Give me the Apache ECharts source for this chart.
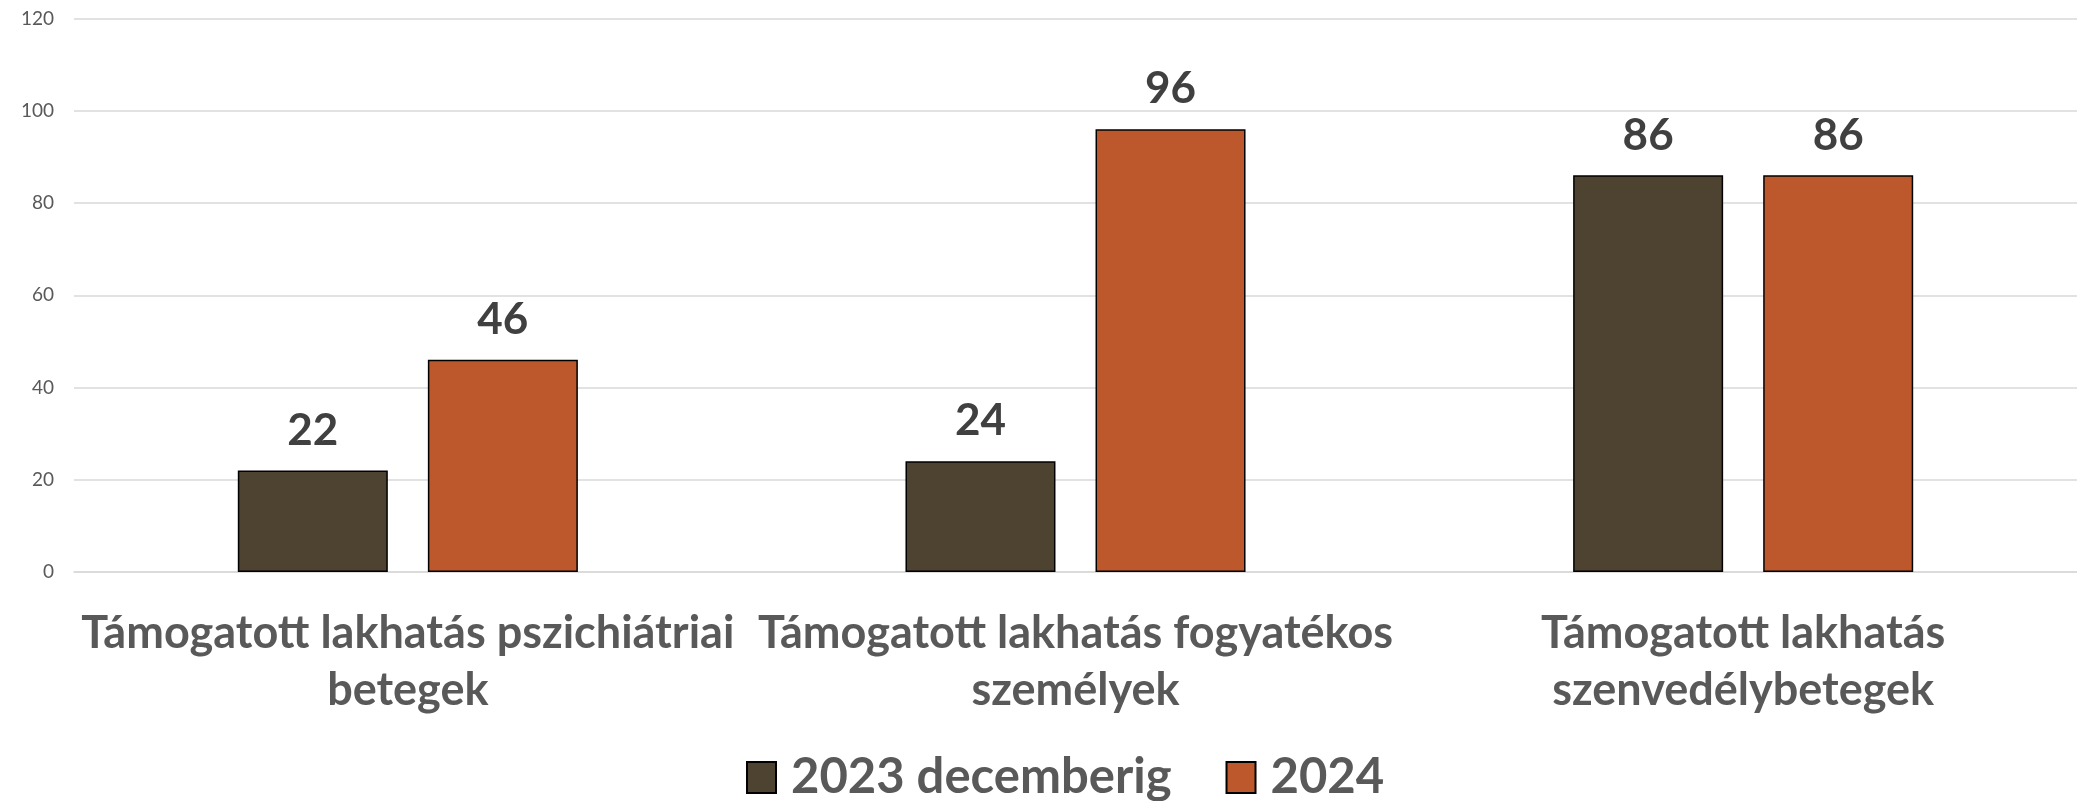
<!DOCTYPE html>
<html>
<head>
<meta charset="utf-8">
<script src="https://cdn.jsdelivr.net/npm/echarts@6/dist/echarts.min.js"></script>
<style>
html,body{margin:0;padding:0;background:#fff;}
#chart{width:2077px;height:801px;}
</style>
</head>
<body>
<div id="chart"></div>
<script>
const categories = [
  "Támogatott lakhatás pszichiátriai\nbetegek",
  "Támogatott lakhatás fogyatékos\nszemélyek",
  "Támogatott lakhatás\nszenvedélybetegek"
];
const seriesNames = ["2023 decemberig", "2024"];
const values2023 = [22, 24, 86];
const values2024 = [46, 96, 86];
const yTicks = { min: 0, max: 120, interval: 20 };

const FONT = "Lato, 'Open Sans', sans-serif";
const chart = echarts.init(document.getElementById('chart'));
const labelStyle = {
  show: true, position: 'top', distance: 18,
  fontFamily: FONT, fontWeight: 'bold', fontSize: 44, color: '#404040'
};
chart.setOption({
  animation: false,
  backgroundColor: '#ffffff',
  grid: { left: 74, right: 0, top: 18.5, bottom: 229, containLabel: false },
  legend: {
    data: seriesNames,
    icon: 'rect',
    bottom: -6,
    left: 741,
    itemWidth: 29, itemHeight: 31, itemGap: 54,
    textStyle: { fontFamily: FONT, fontWeight: 'bold', fontSize: 49, color: '#595959', padding: [0, 0, 0, 10] }
  },
  xAxis: {
    type: 'category',
    data: categories,
    axisLine: { show: true, lineStyle: { color: '#D9D9D9', width: 1.5 } },
    axisTick: { show: false },
    axisLabel: {
      interval: 0, margin: 33,
      fontFamily: FONT, fontWeight: 'bold', fontSize: 45, lineHeight: 57, color: '#595959'
    }
  },
  yAxis: {
    type: 'value',
    min: yTicks.min, max: yTicks.max, interval: yTicks.interval,
    axisLine: { show: false },
    axisTick: { show: false },
    splitLine: { lineStyle: { color: '#D9D9D9', width: 1.5 } },
    axisLabel: { margin: 20, fontFamily: FONT, fontSize: 19, color: '#595959' }
  },
  series: [
    {
      name: seriesNames[0], type: 'bar', data: values2023,
      barWidth: 150, barGap: '26.7%',
      itemStyle: { color: '#4D4330', borderColor: '#000000', borderWidth: 1.5 },
      label: labelStyle
    },
    {
      name: seriesNames[1], type: 'bar', data: values2024,
      barWidth: 150, barGap: '26.7%',
      itemStyle: { color: '#BD582C', borderColor: '#000000', borderWidth: 1.5 },
      label: labelStyle
    }
  ]
});
</script>
</body>
</html>
